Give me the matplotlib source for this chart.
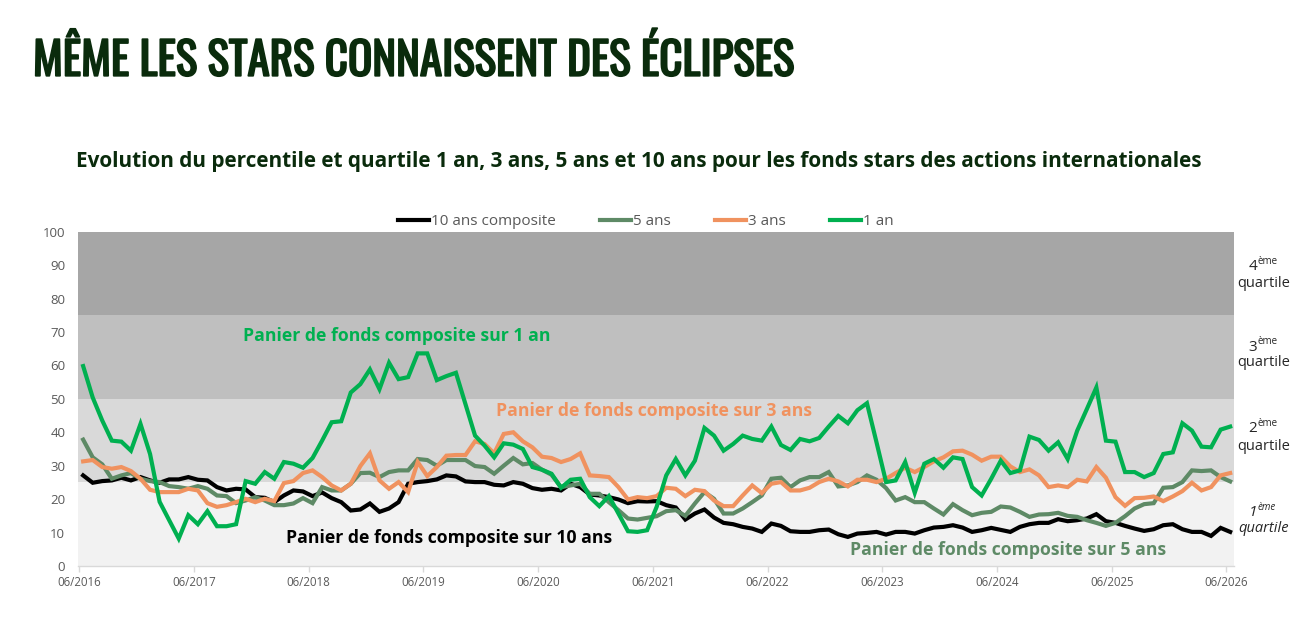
import numpy as np
import matplotlib
matplotlib.use("Agg")
import matplotlib.pyplot as plt
from matplotlib import font_manager as fm
from matplotlib import patheffects as pe

# ---------------- data ----------------
tick_labels = ["06/2016", "06/2017", "06/2018", "06/2019", "06/2020", "06/2021",
               "06/2022", "06/2023", "06/2024", "06/2025", "06/2026"]
series_names = ["10 ans composite", "5 ans", "3 ans", "1 an"]

ten_years = [27.1, 24.9, 25.4, 25.6, 26.4, 25.6, 26.6, 25.6, 24.9, 25.9, 25.9, 26.6, 25.8, 25.6, 23.6,
             22.6, 23.1, 22.9, 20.6, 20.4, 19.1, 21.1, 22.6, 22.3, 20.9,
             22.0, 20.3, 19.1, 16.6, 16.9, 18.7, 16.2, 17.2, 19.1, 24.6, 25.1, 25.4, 25.9, 27.1, 26.8,
             25.3, 25.1, 25.1, 24.3, 24.1, 25.1, 24.6, 23.3, 22.8, 23.1,
             22.6, 24.6, 23.6, 21.4, 21.1, 20.6, 19.9, 18.8, 19.4, 19.3, 19.4, 18.2, 17.5, 13.9, 15.7,
             16.9, 14.5, 12.9, 12.5, 11.7, 11.2, 10.2, 12.7, 12.0,
             10.4, 10.2, 10.2, 10.7, 10.9, 9.5, 8.7, 9.7, 9.9, 10.2, 9.4, 10.2, 10.2, 9.7, 10.7,
             11.5, 11.7, 12.2, 11.5, 10.2, 10.7, 11.4, 10.8, 10.2,
             11.7, 12.5, 12.9, 12.9, 14.0, 13.4, 13.7, 14.2, 15.5, 13.4, 12.9, 12.0, 11.2, 10.5, 11.0,
             12.2, 12.5, 11.0, 10.2, 10.2, 9.0, 11.4, 10.2]

five_years = [37.8, 32.5, 30.4, 26.1, 27.1, 27.8, 26.1, 25.4, 25.1, 23.9, 23.6, 23.1, 23.9, 23.1, 21.1,
              20.9, 18.8, 19.6, 20.6, 19.6, 18.2, 18.2, 18.7, 20.3, 18.8,
              23.6, 22.6, 22.6, 24.6, 27.8, 27.9, 26.6, 28.1, 28.6, 28.6, 32.0, 31.7, 30.0, 31.7, 31.7,
              31.7, 29.9, 29.6, 27.6, 30.0, 32.3, 30.4, 30.8, 28.8, 27.3,
              23.6, 24.1, 24.6, 21.6, 21.6, 19.1, 16.7, 14.2, 13.9, 14.4, 14.9, 16.4, 16.7, 15.0, 18.7,
              22.1, 20.1, 15.7, 15.7, 17.2, 19.1, 21.1, 26.1, 26.4,
              23.6, 25.6, 26.6, 26.6, 28.1, 23.8, 24.1, 25.1, 27.1, 25.8, 23.3, 19.6, 20.6, 19.1, 19.1,
              17.2, 15.4, 18.5, 16.7, 15.2, 15.9, 16.2, 17.8, 17.5,
              16.2, 14.7, 15.4, 15.5, 15.9, 15.0, 14.7, 13.7, 12.9, 12.0, 12.9, 14.9, 17.2, 18.5, 18.8,
              23.4, 23.6, 25.1, 28.6, 28.4, 28.6, 26.6, 25.3]

three_years = [31.3, 31.7, 29.6, 29.1, 29.6, 28.4, 26.1, 22.8, 22.1, 22.1, 22.1, 23.1, 22.6, 18.8, 17.7,
               18.2, 19.1, 20.1, 19.1, 20.1, 19.4, 24.8, 25.4, 27.8, 28.6,
               26.6, 24.1, 22.6, 24.6, 29.9, 33.7, 25.6, 23.1, 25.1, 22.1, 31.1, 26.9, 29.6, 33.0, 33.2,
               33.2, 37.3, 36.5, 33.7, 39.5, 40.0, 37.3, 35.5, 32.7, 32.3,
               31.1, 32.0, 33.7, 27.1, 26.9, 26.6, 23.6, 19.9, 20.6, 20.3, 20.9, 23.4, 23.1, 20.9, 22.8,
               22.4, 19.6, 17.9, 17.9, 21.1, 24.1, 21.8, 24.6, 25.1,
               22.6, 22.6, 23.4, 25.1, 26.1, 25.3, 23.8, 25.8, 25.8, 25.1, 26.1, 27.8, 29.4, 28.1, 29.6,
               31.3, 32.5, 34.3, 34.5, 33.3, 31.5, 32.7, 32.7, 29.8,
               28.1, 28.9, 27.1, 23.6, 24.1, 23.6, 25.8, 25.3, 29.6, 26.4, 20.6, 18.0, 20.3, 20.4, 20.8,
               19.4, 20.8, 22.4, 24.9, 22.6, 23.6, 27.1, 27.8]

one_year = [59.8, 50.4, 43.5, 37.5, 37.2, 34.5, 42.5, 33.5, 19.2, 13.7, 8.2, 15.2, 12.5, 16.4, 11.9,
            11.9, 12.5, 25.4, 24.6, 28.1, 26.1, 31.1, 30.6, 29.4, 32.3,
            37.5, 43.0, 43.3, 51.9, 54.4, 58.8, 52.9, 60.8, 55.9, 56.5, 63.6, 63.6, 55.6, 56.8, 57.8,
            48.4, 39.0, 36.0, 32.5, 36.7, 36.3, 35.0, 29.6, 28.8, 27.6,
            23.4, 25.8, 26.1, 20.6, 17.9, 20.9, 15.7, 10.4, 10.2, 10.7, 17.7, 27.1, 32.0, 27.1, 31.5,
            41.3, 39.0, 34.5, 36.5, 39.0, 38.0, 37.5, 41.7, 36.2,
            34.7, 38.0, 37.3, 38.3, 41.7, 44.9, 42.7, 46.6, 48.7, 37.0, 25.1, 25.6, 31.1, 21.9, 30.6,
            32.0, 29.4, 32.5, 32.0, 23.6, 21.1, 26.1, 31.5, 27.8,
            28.6, 38.7, 37.7, 34.5, 37.0, 32.0, 40.5, 46.9, 53.4, 37.5, 37.2, 28.1, 28.1, 26.6, 27.8,
            33.5, 34.0, 42.7, 40.5, 35.7, 35.5, 40.8, 41.7]

quartile_bounds = [0, 25, 50, 75, 100]
quartile_numbers = ["1", "2", "3", "4"]

# ---------------- styles ----------------
W, H = 1299, 644
band_colors = ["#f2f2f2", "#d9d9d9", "#bfbfbf", "#a6a6a6"]
line_colors = ["#000000", "#5e8a66", "#f0925f", "#00b050"]
title_color = "#0a2b0c"
grey_text = "#595959"

names = {f.name for f in fm.fontManager.ttflist}


def pick(cands, default="DejaVu Sans"):
    for c in cands:
        if c in names:
            return c
    return default


def wnum(w):
    if isinstance(w, (int, float)):
        return w
    return fm.weight_dict.get(str(w), 400)


title_font = pick(["Oswald", "Bebas Neue", "Liberation Sans Narrow", "DejaVu Sans Condensed",
                   "Roboto Condensed", "Open Sans"])
title_entries = [f for f in fm.fontManager.ttflist if f.name == title_font]
heaviest = max(title_entries, key=lambda f: wnum(f.weight)) if title_entries else None
if heaviest is not None:
    title_prop = fm.FontProperties(fname=heaviest.fname)
    title_is_bold = wnum(heaviest.weight) >= 600
else:
    title_prop = fm.FontProperties(family="DejaVu Sans", weight="bold")
    title_is_bold = True

body_font = pick(["Open Sans", "Noto Sans", "DejaVu Sans"])
plt.rcParams["font.family"] = [body_font, "DejaVu Sans"]

fig = plt.figure(figsize=(W / 100, H / 100), dpi=100)


def fx(x):
    return x / W


def fy(y):
    return 1 - y / H


ax_left, ax_right, ax_top, ax_bottom = 77.7, 1234.0, 231.7, 566.0
ax = fig.add_axes([fx(ax_left), fy(ax_bottom), (ax_right - ax_left) / W, (ax_bottom - ax_top) / H])

n = len(one_year)
x = np.arange(n) + 0.4

for i in range(4):
    ax.axhspan(quartile_bounds[i], quartile_bounds[i + 1], color=band_colors[i], lw=0, zorder=0)

series = [ten_years, five_years, three_years, one_year]
handles = []
for vals, col, name in zip(series, line_colors, series_names):
    (h,) = ax.plot(x, vals, color=col, lw=3.0, solid_joinstyle="miter", zorder=3, label=name)
    handles.append(h)

ax.set_xlim(-0.17, 120.8)
ax.set_ylim(0, 100)
ax.set_yticks(range(0, 101, 10))
ax.set_xticks(np.arange(0, 121, 12))
ax.set_xticklabels(tick_labels)
for s in ["top", "right", "left"]:
    ax.spines[s].set_visible(False)
ax.spines["bottom"].set_color("#d9d9d9")
ax.spines["bottom"].set_linewidth(1.0)
ax.tick_params(axis="y", length=0, pad=9, labelsize=9.5, labelcolor=grey_text)
ax.tick_params(axis="x", length=4, width=1, color="#d9d9d9", pad=3.5, labelsize=8.3, labelcolor=grey_text)

leg = fig.legend(handles=handles, loc="center", bbox_to_anchor=(fx(646), fy(221.5)),
                 ncol=4, frameon=False, fontsize=11, handlelength=2.0, handletextpad=0.15,
                 columnspacing=2.9, labelcolor=grey_text)

# ---------------- texts ----------------
title = fig.text(fx(33), fy(59.5), "MÊME LES STARS CONNAISSENT DES ÉCLIPSES", fontproperties=title_prop,
                 fontsize=30, color=title_color, ha="left", va="center")
subtitle = fig.text(fx(639), fy(162), "Evolution du percentile et quartile 1 an, 3 ans, 5 ans et 10 ans "
                    "pour les fonds stars des actions internationales", fontweight="bold", fontsize=13,
                    color=title_color, ha="center", va="center")

ann = [
    ("Panier de fonds composite sur 1 an", 396.5, 336, line_colors[3], 307),
    ("Panier de fonds composite sur 3 ans", 654.5, 411, line_colors[2], 315),
    ("Panier de fonds composite sur 10 ans", 449, 538, line_colors[0], 326),
    ("Panier de fonds composite sur 5 ans", 1008, 550, line_colors[1], 316),
]
ann_texts = []
for txt, cx, cy, col, wtarget in ann:
    t = fig.text(fx(cx), fy(cy), txt, fontweight="bold", fontsize=12, color=col, ha="center", va="center")
    ann_texts.append((t, wtarget))

fig.canvas.draw()
r = fig.canvas.get_renderer()


def fit(t, target):
    w = t.get_window_extent(r).width
    t.set_fontsize(t.get_fontsize() * target / w)


fit(title, 762)
if not title_is_bold:
    title.set_path_effects([pe.withStroke(linewidth=1.3, foreground=title_color)])
fit(subtitle, 1122)
for t, wt in ann_texts:
    fit(t, wt)

# quartile labels on the right
q_pos = {"4": (267, 283), "3": (347, 362), "2": (429, 446), "1": (512, 529)}
for q in quartile_numbers:
    y1, y2 = q_pos[q]
    style = "italic" if q == "1" else "normal"
    fig.text(fx(1257), fy(y1), q, fontsize=11, color="#262626", ha="right", va="center", style=style)
    fig.text(fx(1257.5), fy(y1 - 5), "ème", fontsize=7, color="#262626", ha="left", va="center",
             style=style)
    fig.text(fx(1264), fy(y2), "quartile", fontsize=10.5, color="#262626", ha="center", va="center",
             style=style)

fig.savefig("out.png", dpi=100)
